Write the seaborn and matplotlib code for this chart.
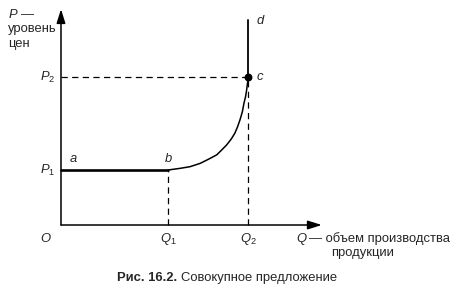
import matplotlib
matplotlib.use("Agg")
import matplotlib.pyplot as plt
import seaborn as sns

# ── Data (model units) ───────────────────────────────────────────────────────
Q1, Q2 = 4.0, 7.0          # output levels
P1, P2 = 2.0, 5.38         # price levels
D_TOP = 7.45               # top of vertical segment cd

# supply curve b -> c
curve_q = [4.0, 4.45, 4.82, 5.2, 5.51, 5.82, 6.01, 6.19, 6.36, 6.5,
           6.6, 6.69, 6.78, 6.84, 6.9, 6.94, 7.0]
curve_p = [2.0, 2.06, 2.12, 2.24, 2.39, 2.55, 2.73, 2.91, 3.12, 3.34,
           3.57, 3.82, 4.12, 4.43, 4.67, 4.91, 5.38]

flat_q = [0.0, Q1]
flat_p = [P1, P1]
vert_q = [Q2, Q2]
vert_p = [P2, D_TOP]

X_TIP, Y_TIP = 9.75, 7.85

sns.set_style("white")
plt.rcParams["font.family"] = ["Liberation Sans", "DejaVu Sans"]
plt.rcParams["mathtext.fontset"] = "custom"
plt.rcParams["mathtext.rm"] = "Liberation Sans"
plt.rcParams["mathtext.it"] = "Liberation Sans:italic"

fig = plt.figure(figsize=(4.53, 2.89), dpi=100)
ax = fig.add_axes([0, 0, 1, 1])
ax.set_xlim(-2.28, 14.654)
ax.set_ylim(-2.327, 8.182)
ax.axis("off")

# ── Axes with arrows ─────────────────────────────────────────────────────────
arrow = dict(arrowstyle="-|>,head_length=0.7,head_width=0.22", color="black",
             lw=1.1, mutation_scale=12, shrinkA=0, shrinkB=0)
ax.annotate("", xy=(0, Y_TIP), xytext=(0, 0), arrowprops=arrow)
ax.annotate("", xy=(X_TIP, 0), xytext=(0, 0), arrowprops=arrow)

# ── Supply curve ─────────────────────────────────────────────────────────────
line_kw = dict(ax=ax, color="black", sort=False, estimator=None)
sns.lineplot(x=flat_q, y=flat_p, lw=1.9, **line_kw)
sns.lineplot(x=curve_q, y=curve_p, lw=1.1, **line_kw)
sns.lineplot(x=vert_q, y=vert_p, lw=1.3, **line_kw)

# ── Dashed guides ────────────────────────────────────────────────────────────
dash = dict(color="black", lw=0.9, linestyle=(0, (5, 3.5)))
ax.plot([0, Q2], [P2, P2], **dash)
ax.plot([Q1, Q1], [0, P1], **dash)
ax.plot([Q2, Q2], [0, P2], **dash)

ax.scatter([Q2], [P2], s=22, color="black", zorder=5)

# ── Labels ───────────────────────────────────────────────────────────────────
fs = 9.4
ax.text(-1.98, 7.9, "$P$ —\nуровень\nцен", fontsize=fs, ha="left", va="top",
        linespacing=1.3)
ax.text(-0.2, P2, "$P_2$", fontsize=fs, ha="right", va="center")
ax.text(-0.2, P1, "$P_1$", fontsize=fs, ha="right", va="center")
ax.text(-0.56, -0.5, "$O$", fontsize=fs, ha="center", va="center")
ax.text(Q1, -0.5, "$Q_1$", fontsize=fs, ha="center", va="center")
ax.text(Q2, -0.5, "$Q_2$", fontsize=fs, ha="center", va="center")

ax.text(0.3, P1 + 0.2, "$a$", fontsize=fs, ha="left", va="bottom")
ax.text(Q1, P1 + 0.2, "$b$", fontsize=fs, ha="center", va="bottom")
ax.text(Q2 + 0.3, P2, "$c$", fontsize=fs, ha="left", va="center")
ax.text(Q2 + 0.3, D_TOP, "$d$", fontsize=fs, ha="left", va="center")

ax.text(8.8, -0.5, "$Q$", fontsize=fs, ha="left", va="center")
ax.text(9.27, -0.5, "— объем производства", fontsize=fs, ha="left",
        va="center")
ax.text(10.1, -1.0, "продукции", fontsize=fs, ha="left", va="center")

# ── Caption ──────────────────────────────────────────────────────────────────
cap_y = 1 - 278 / 289
t1 = fig.text(117 / 453, cap_y, "Рис. 16.2.", fontsize=fs, fontweight="bold",
              ha="left", va="center")
ax.annotate("Совокупное предложение", xy=(1, 0.5), xycoords=t1,
            xytext=(3, 0), textcoords="offset points", fontsize=fs,
            ha="left", va="center", annotation_clip=False)

fig.savefig("out.png", dpi=100)
